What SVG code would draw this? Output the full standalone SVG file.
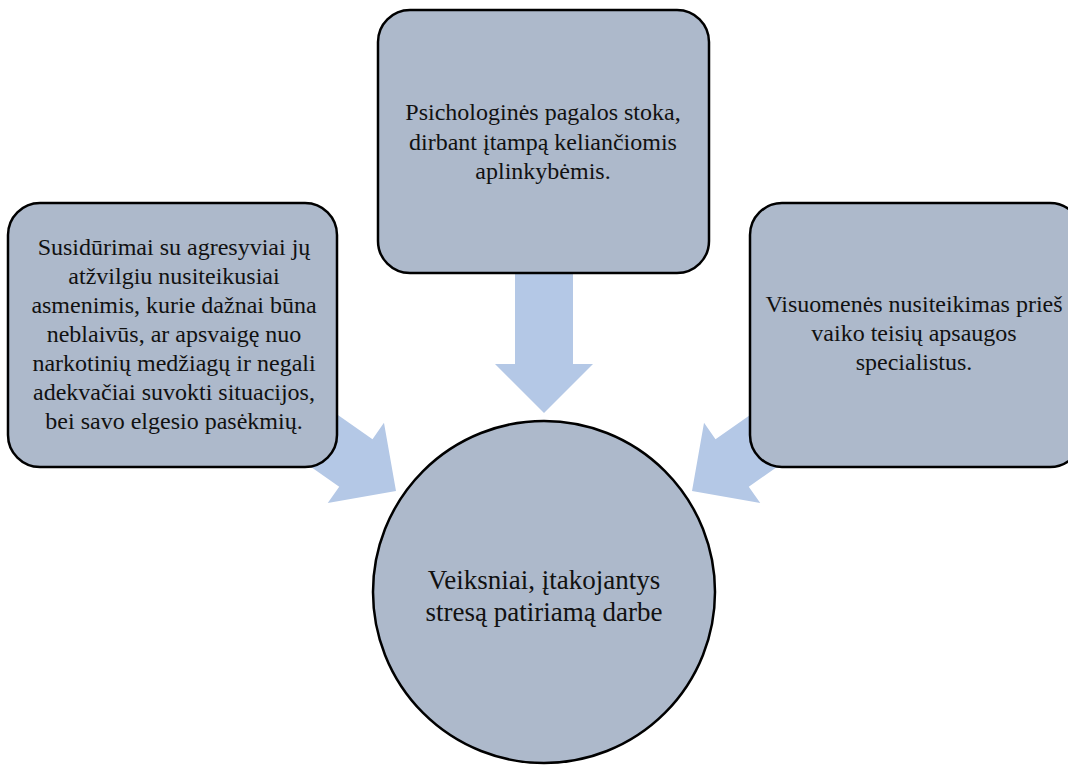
<svg xmlns="http://www.w3.org/2000/svg" width="1068" height="765" viewBox="0 0 1068 765">
<defs>
<style>
.box{fill:#adb9cb;stroke:#000;stroke-width:2.5}
.arr{fill:#b4c8e6}
.t{font-family:"Liberation Serif","Times New Roman",serif;font-size:24px;fill:#111;text-anchor:middle}
.tc{font-size:27px}
</style>
<polygon id="arrowShape" points="0,0 -49,-49 -49,-29 -150,-29 -150,29 -49,29 -49,49"/>
</defs>
<rect width="1068" height="765" fill="#fff"/>
<g id="connectors">
<use href="#arrowShape" class="arr" transform="translate(544,413) rotate(90)"/>
<use href="#arrowShape" class="arr" transform="translate(396,491) rotate(35)"/>
<use href="#arrowShape" class="arr" transform="translate(692,491) rotate(145)"/>
</g>
<g id="node-top">
<rect class="box" x="378" y="10" width="331" height="263" rx="32"/>
<text class="t" x="543" y="120">Psichologinės pagalos stoka,</text>
<text class="t" x="543" y="150">dirbant įtampą keliančiomis</text>
<text class="t" x="543" y="179">aplinkybėmis.</text>
</g>
<g id="node-left">
<rect class="box" x="8" y="203" width="329" height="264" rx="32"/>
<text class="t" x="174" y="255">Susidūrimai su agresyviai jų</text>
<text class="t" x="174" y="284">atžvilgiu nusiteikusiai</text>
<text class="t" x="174" y="313">asmenimis, kurie dažnai būna</text>
<text class="t" x="174" y="342">neblaivūs, ar apsvaigę nuo</text>
<text class="t" x="174" y="371">narkotinių medžiagų ir negali</text>
<text class="t" x="174" y="400">adekvačiai suvokti situacijos,</text>
<text class="t" x="174" y="429">bei savo elgesio pasėkmių.</text>
</g>
<g id="node-right">
<rect class="box" x="750" y="203" width="332" height="264" rx="32"/>
<text class="t" x="914" y="312">Visuomenės nusiteikimas prieš</text>
<text class="t" x="914" y="341">vaiko teisių apsaugos</text>
<text class="t" x="914" y="370">specialistus.</text>
</g>
<g id="node-center">
<circle class="box" cx="544" cy="592" r="171"/>
<text class="t tc" x="544" y="589">Veiksniai, įtakojantys</text>
<text class="t tc" x="544" y="621">stresą patiriamą darbe</text>
</g>
</svg>
